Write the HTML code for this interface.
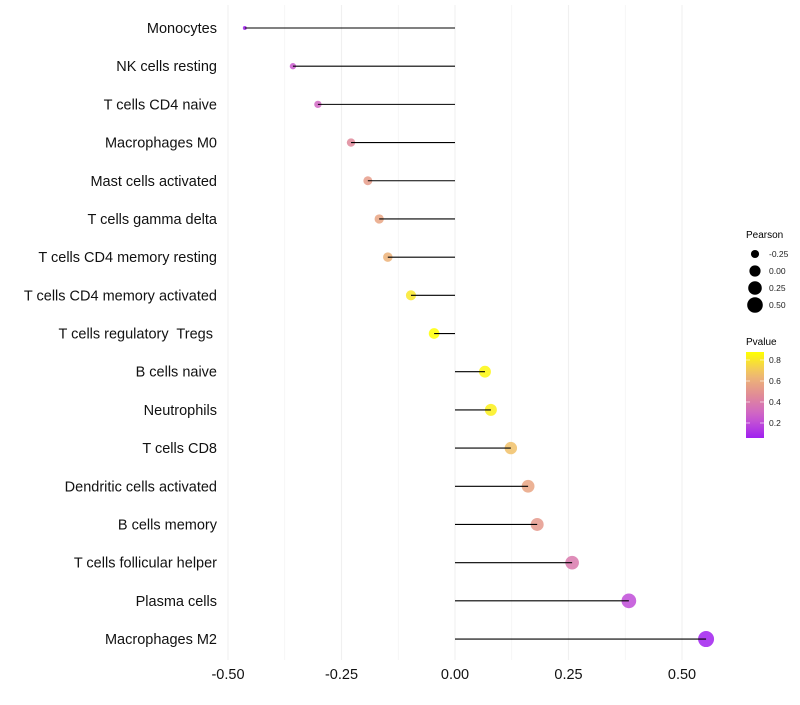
<!DOCTYPE html>
<html><head><meta charset="utf-8"><style>
body{margin:0;background:#fff;width:800px;height:700px;overflow:hidden}
svg{font-family:"Liberation Sans",sans-serif}
text{white-space:pre}
</style></head><body>
<svg id="c" width="800" height="700"></svg>
<script>
const categories=["Monocytes","NK cells resting","T cells CD4 naive","Macrophages M0","Mast cells activated","T cells gamma delta","T cells CD4 memory resting","T cells CD4 memory activated","T cells regulatory  Tregs ","B cells naive","Neutrophils","T cells CD8","Dendritic cells activated","B cells memory","T cells follicular helper","Plasma cells","Macrophages M2"];
const pearson=[-0.463,-0.357,-0.302,-0.229,-0.192,-0.167,-0.148,-0.097,-0.046,0.066,0.079,0.123,0.161,0.181,0.258,0.383,0.553];
const pvalue=[0.06,0.25,0.3,0.45,0.53,0.57,0.62,0.8,0.88,0.85,0.83,0.68,0.57,0.52,0.38,0.2,0.06];
const xTicks=[-0.5,-0.25,0,0.25,0.5];
const xTickLabels=["-0.50","-0.25","0.00","0.25","0.50"];
const sizeBreaks=[-0.25,0,0.25,0.5];
const sizeLabels=["-0.25","0.00","0.25","0.50"];
const pBreaks=[0.2,0.4,0.6,0.8];

const NS="http://www.w3.org/2000/svg";
const svg=document.getElementById('c');
function el(t,a,p){const e=document.createElementNS(NS,t);for(const k in a)e.setAttribute(k,a[k]);(p||svg).appendChild(e);return e;}
const X=v=>455+v*454;
const Y=i=>28+i*38.19;
const R=v=>Math.sqrt(Math.max(1,31.3+59.4*v));
function col(p){
  let t=Math.min(1,Math.max(0,(p-0.057)/(0.876-0.057)));
  const s=[[160,32,240],[205,95,205],[225,140,150],[240,190,110],[255,255,0]];
  const f=t*(s.length-1),i=Math.min(s.length-2,Math.floor(f)),u=f-i;
  const c=s[i].map((v,k)=>Math.round(v+(s[i+1][k]-v)*u));
  return `rgb(${c.join(',')})`;
}
for(let v=-0.5;v<=0.5001;v+=0.125){
  const g=el('line',{x1:X(v),x2:X(v),y1:5,y2:660,stroke:'#f0f0f0','stroke-width':Math.abs((v*4)%1)<0.01?1.1:0.6});
  
  
}
categories.forEach((c,i)=>{
  const y=Y(i);
  const t=el('text',{x:217,y:y+5,'text-anchor':'end','font-size':14.5,fill:'#111','xml:space':'preserve'});
  t.textContent=c;
  
  
  const pt=el('circle',{cx:X(pearson[i]),cy:y,r:R(pearson[i]),fill:col(pvalue[i]),'fill-opacity':0.85});
  
  
  const ln=el('line',{x1:X(0),x2:X(pearson[i]),y1:y,y2:y,stroke:'#000','stroke-width':1.1});
  
  
});
xTicks.forEach((v,i)=>{
  const t=el('text',{x:X(v),y:679,'text-anchor':'middle','font-size':14.5,fill:'#111'});
  t.textContent=xTickLabels[i];
  
  
});
let t=el('text',{x:746,y:238,'font-size':10,fill:'#000'});t.textContent='Pearson';


sizeBreaks.forEach((v,i)=>{
  const y=254+i*17;
  const c=el('circle',{cx:755,cy:y,r:R(v),fill:'#000'});
  
  
  const tx=el('text',{x:769,y:y+3,'font-size':8.5,fill:'#222'});tx.textContent=sizeLabels[i];
  
  
});
t=el('text',{x:746,y:345,'font-size':10,fill:'#000'});t.textContent='Pvalue';


const defs=el('defs',{});
const lg=el('linearGradient',{id:'g',x1:0,y1:1,x2:0,y2:0},defs);
for(let k=0;k<=10;k++){el('stop',{offset:k/10,'stop-color':col(0.057+k/10*(0.876-0.057))},lg);}
const bar=el('rect',{x:746,y:352,width:18,height:86,fill:'url(#g)'});


pBreaks.forEach(p=>{
  const y=438-(p-0.057)/(0.876-0.057)*86;
  el('line',{x1:746,x2:750,y1:y,y2:y,stroke:'#fff','stroke-opacity':0.6});
  el('line',{x1:760,x2:764,y1:y,y2:y,stroke:'#fff','stroke-opacity':0.6});
  const tx=el('text',{x:769,y:y+3,'font-size':8.5,fill:'#222'});tx.textContent=p.toFixed(1);
  
  
});
</script>
</body></html>
